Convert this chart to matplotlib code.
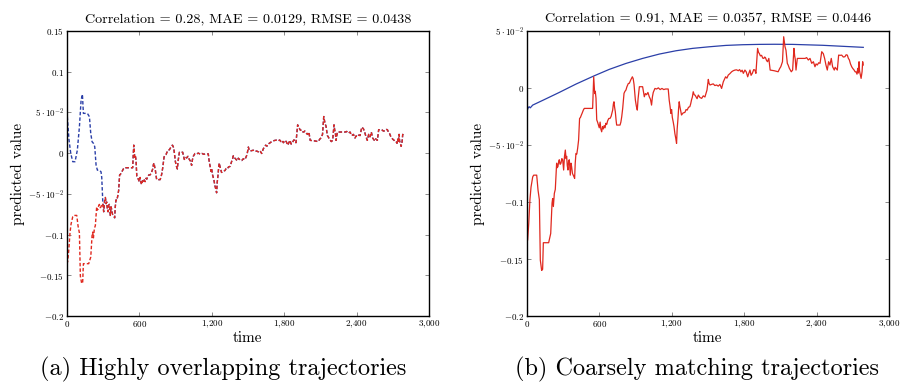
import matplotlib
matplotlib.use('Agg')
import matplotlib.pyplot as plt

plt.rcParams['font.family'] = ['cmr10', 'DejaVu Serif']
plt.rcParams['mathtext.fontset'] = 'cm'
plt.rcParams['axes.unicode_minus'] = False

# target trajectory (red)
red_t = [5, 8, 17, 27, 36, 50, 58, 83, 94, 105, 113, 124, 132, 138, 182, 199, 210, 215, 221, 229,
         237, 248, 252, 259, 264, 270, 277, 284, 291, 298, 306, 313, 320, 326, 331, 336, 342, 347,
         353, 357, 361, 367, 372, 379, 386, 392, 397, 402, 408, 415, 422, 430, 438, 445, 452, 460,
         469, 477, 546, 555, 559, 563, 568, 574, 580, 587, 594, 601, 608, 614, 621, 628, 635, 642,
         649, 656, 663, 670, 680, 690, 699, 712, 718, 723, 728, 734, 740, 745, 773, 780, 787, 795,
         806, 814, 822, 830, 842, 850, 861, 875, 882, 889, 900, 908, 916, 922, 933, 960, 974, 983,
         993, 1004, 1015, 1025, 1034, 1041, 1048, 1062, 1076, 1090, 1105, 1120, 1135, 1150, 1172,
         1180, 1187, 1194, 1200, 1206, 1213, 1220, 1227, 1234, 1241, 1246, 1252, 1258, 1263, 1268,
         1274, 1282, 1295, 1310, 1320, 1329, 1340, 1351, 1358, 1365, 1372, 1379, 1387, 1395, 1411,
         1421, 1435, 1449, 1462, 1476, 1493, 1504, 1510, 1518, 1530, 1545, 1558, 1573, 1586, 1600,
         1614, 1628, 1647, 1658, 1669, 1683, 1697, 1710, 1725, 1738, 1752, 1763, 1774, 1784, 1794,
         1807, 1818, 1830, 1840, 1849, 1858, 1868, 1880, 1890, 1898, 1912, 1920, 1926, 1935, 1945,
         1955, 1964, 1970, 1977, 1986, 1994, 2005, 2016, 2050, 2082, 2095, 2104, 2118, 2128, 2134,
         2139, 2147, 2158, 2165, 2175, 2191, 2202, 2213, 2219, 2224, 2230, 2241, 2270, 2305, 2318,
         2332, 2346, 2360, 2374, 2387, 2396, 2406, 2418, 2429, 2443, 2456, 2467, 2478, 2489, 2500,
         2511, 2522, 2533, 2540, 2547, 2554, 2561, 2572, 2583, 2595, 2608, 2622, 2635, 2645, 2655,
         2663, 2672, 2681, 2691, 2700, 2711, 2720, 2727, 2735, 2741, 2746, 2752, 2756, 2760, 2769,
         2774, 2777, 2782, 2786]
red_v = [-0.134, -0.1334, -0.119, -0.098, -0.087, -0.078, -0.0765, -0.0765, -0.0896, -0.098,
         -0.151, -0.160, -0.159, -0.1357, -0.1357, -0.1276, -0.101, -0.097, -0.104, -0.0925,
         -0.089, -0.066, -0.070, -0.069, -0.065, -0.063, -0.067, -0.066, -0.062, -0.063, -0.072,
         -0.060, -0.0545, -0.062, -0.060, -0.068, -0.072, -0.064, -0.063, -0.070, -0.0765, -0.066,
         -0.069, -0.075, -0.0765, -0.078, -0.0794, -0.066, -0.0575, -0.058, -0.053, -0.0457,
         -0.0268, -0.026, -0.024, -0.022, -0.0195, -0.018, -0.018, 0.0097, 0.002, -0.005, -0.003,
         -0.009, -0.028, -0.030, -0.0326, -0.035, -0.030, -0.036, -0.0385, -0.034, -0.036, -0.033,
         -0.035, -0.031, -0.032, -0.029, -0.0268, -0.0268, -0.025, -0.0195, -0.014, -0.0122,
         -0.017, -0.021, -0.028, -0.0326, -0.0326, -0.030, -0.0253, -0.018, -0.0048, -0.003,
         -0.0019, 0.001, 0.0039, 0.004, 0.0068, 0.0097, 0.008, 0.003, -0.0107, -0.016, -0.0195,
         -0.010, 0.001, 0.001, -0.0078, -0.005, -0.006, -0.004, -0.0078, -0.010, -0.0151, -0.008,
         -0.004, -0.0005, -0.001, 0.0, -0.0015, -0.0005, -0.0015, -0.001, -0.001, -0.0107, -0.016,
         -0.0224, -0.019, -0.026, -0.0297, -0.034, -0.040, -0.044, -0.0487, -0.036, -0.028,
         -0.018, -0.0122, -0.016, -0.0195, -0.0238, -0.022, -0.0215, -0.019, -0.0195, -0.017,
         -0.0165, -0.014, -0.0105, -0.008, -0.0034, -0.006, -0.0065, -0.0095, -0.0063, -0.0085,
         -0.0092, -0.007, -0.008, -0.0019, 0.0074, 0.004, 0.0025, 0.003, 0.0035, 0.002, 0.0025,
         0.0015, 0.003, -0.0005, 0.0053, 0.0097, 0.0085, 0.0112, 0.0125, 0.0141, 0.015, 0.0156,
         0.0158, 0.015, 0.016, 0.0141, 0.0155, 0.0127, 0.0156, 0.014, 0.0097, 0.013, 0.0156,
         0.011, 0.0127, 0.016, 0.0156, 0.0127, 0.0346, 0.031, 0.0302, 0.028, 0.0285, 0.026,
         0.0258, 0.027, 0.0265, 0.024, 0.0229, 0.0258, 0.0156, 0.015, 0.0141, 0.017, 0.0185,
         0.0229, 0.0448, 0.040, 0.036, 0.033, 0.0215, 0.020, 0.0171, 0.0141, 0.0156, 0.0346,
         0.028, 0.025, 0.0156, 0.0258, 0.0258, 0.0258, 0.0265, 0.0244, 0.0258, 0.0215, 0.0229,
         0.0185, 0.021, 0.020, 0.022, 0.0215, 0.0317, 0.030, 0.0258, 0.020, 0.0156, 0.0229, 0.020,
         0.0258, 0.0185, 0.017, 0.0156, 0.018, 0.0171, 0.0156, 0.0287, 0.0285, 0.0287, 0.027,
         0.0273, 0.029, 0.0287, 0.026, 0.0244, 0.021, 0.0185, 0.017, 0.0156, 0.014, 0.0141,
         0.012, 0.0171, 0.013, 0.0229, 0.015, 0.0127, 0.0083, 0.012, 0.0141, 0.0229, 0.020]

# prediction (a): start of the blue curve before it joins the red one
blue_a_t = [5, 19, 33, 50, 69, 88, 105, 119, 130, 138, 171, 188, 199, 210, 221, 232, 243, 254,
            270, 284, 290, 298, 304]
blue_a_v = [0.0446, 0.016, 0.0, -0.0106, -0.0106, 0.0037, 0.032, 0.065, 0.072, 0.0487, 0.0487,
            0.0446, 0.024, 0.0139, 0.012, 0.0078, -0.0147, -0.021, -0.021, -0.023, -0.030,
            -0.0576, -0.066]

# prediction (b): smooth blue curve
blue_b_t = [0, 10, 20, 30, 50, 132, 270, 408, 560, 684, 822, 960, 1098, 1236, 1374, 1512, 1650,
            1788, 1925, 2050, 2200, 2450, 2787]
blue_b_v = [-0.022, -0.018, -0.0165, -0.0175, -0.0151, -0.011, -0.004, 0.0033, 0.0106, 0.0162,
            0.0214, 0.0258, 0.0296, 0.0325, 0.0346, 0.036, 0.0372, 0.0378, 0.0381, 0.0382,
            0.0381, 0.0373, 0.0355]

titles = ['Correlation = 0.28, MAE = 0.0129, RMSE = 0.0438',
          'Correlation = 0.91, MAE = 0.0357, RMSE = 0.0446']
captions = ['(a) Highly overlapping trajectories', '(b) Coarsely matching trajectories']

xticks = [0, 600, 1200, 1800, 2400, 3000]
xlabels = ['$0$', '$600$', '$1{,}200$', '$1{,}800$', '$2{,}400$', '$3{,}000$']
yticks_a = [-0.2, -0.15, -0.1, -0.05, 0, 0.05, 0.1, 0.15]
ylabels_a = ['$-0.2$', '$-0.15$', '$-0.1$', r'$-5\cdot10^{-2}$', '$0$', r'$5\cdot10^{-2}$',
             '$0.1$', '$0.15$']
yticks_b = yticks_a[:6]
ylabels_b = ylabels_a[:6]

red = '#e0281e'
blue = '#2b3fa8'

fig = plt.figure(figsize=(9.09, 3.85), dpi=100)
ax_a = fig.add_axes([0.0734, 0.179, 0.3986, 0.741])
ax_b = fig.add_axes([0.5794, 0.179, 0.3986, 0.741])

# in (a) the prediction follows the target once it has converged
blue_full_t = blue_a_t + [t for t in red_t if t > 304]
blue_full_v = blue_a_v + [v for t, v in zip(red_t, red_v) if t > 304]
ax_a.plot(blue_full_t, blue_full_v, color=blue, lw=1.0, ls=(0, (2.5, 1.5)))
ax_a.plot(red_t, red_v, color=red, lw=1.0, ls=(1.2, (2.5, 1.5)))

ax_b.plot(blue_b_t, blue_b_v, color=blue, lw=0.9)
ax_b.plot(red_t, red_v, color=red, lw=0.9)

for ax, ttl, yt, yl, ylim in [(ax_a, titles[0], yticks_a, ylabels_a, (-0.2, 0.15)),
                              (ax_b, titles[1], yticks_b, ylabels_b, (-0.2, 0.05))]:
    ax.set_xlim(0, 3000)
    ax.set_ylim(*ylim)
    ax.set_xticks(xticks)
    ax.set_xticklabels(xlabels, fontsize=6.5)
    ax.set_yticks(yt)
    ax.set_yticklabels(yl, fontsize=6.5)
    ax.tick_params(direction='in', top=True, right=True, length=3, width=0.6,
                   color='#777777', pad=2)
    for s in ax.spines.values():
        s.set_linewidth(1.0)
    ax.set_title(ttl, fontsize=10.2, pad=6)
    ax.set_xlabel('time', fontsize=11, labelpad=1)
    ax.set_ylabel('predicted value', fontsize=11, labelpad=2)

fig.text(0.246, 0.04, captions[0], fontsize=17.5, ha='center', va='center')
fig.text(0.767, 0.04, captions[1], fontsize=17.5, ha='center', va='center')

fig.savefig('out.png', dpi=100)
